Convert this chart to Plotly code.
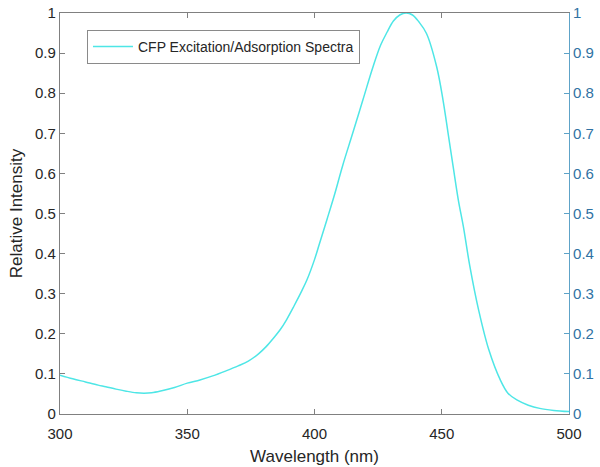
import plotly.graph_objects as go

wavelength = [300, 305, 310, 315, 318, 322, 326, 330, 333, 336, 340, 345, 350, 355, 360,
              365, 370, 374, 378, 381, 384, 386.5, 389, 392, 395, 397, 400, 402, 405, 408,
              411, 415, 419, 423, 426, 428.5, 431, 433.5, 436, 438.5, 441, 444, 448, 450.5,
              452.5, 454.5, 456.5, 458.5, 461, 464.5, 468.5, 473, 476, 479.5, 484, 488.5,
              494, 500]
intensity = [0.097, 0.088, 0.080, 0.072, 0.068, 0.062, 0.057, 0.053, 0.052, 0.053, 0.058,
             0.066, 0.077, 0.085, 0.095, 0.107, 0.120, 0.132, 0.150, 0.168, 0.190, 0.210,
             0.235, 0.270, 0.307, 0.334, 0.385, 0.426, 0.487, 0.550, 0.618, 0.700, 0.783,
             0.866, 0.920, 0.952, 0.980, 0.995, 1.000, 0.995, 0.978, 0.949, 0.866, 0.783,
             0.700, 0.616, 0.534, 0.467, 0.370, 0.259, 0.160, 0.085, 0.052, 0.035, 0.022,
             0.014, 0.009, 0.006]

series_name = "CFP Excitation/Adsorption Spectra"
x_title = "Wavelength (nm)"
y_title = "Relative Intensity"
x_ticks = [300, 350, 400, 450, 500]
y_ticks = [0, 0.1, 0.2, 0.3, 0.4, 0.5, 0.6, 0.7, 0.8, 0.9, 1]
y_ticklabels = ["0", "0.1", "0.2", "0.3", "0.4", "0.5", "0.6", "0.7", "0.8", "0.9", "1"]

FONT = "Liberation Sans, Arial, sans-serif"
CYAN = "#4ee6e6"
AXGRAY = "#808080"
BLUE_LINE = "#5ea3c8"
BLUE_TXT = "#2f72a3"

fig = go.Figure()
fig.add_trace(go.Scatter(x=wavelength, y=intensity, mode="lines", name=series_name,
                         line=dict(color=CYAN, width=1.5, shape="spline", smoothing=1.0)))
fig.add_trace(go.Scatter(x=wavelength, y=intensity, mode="lines", yaxis="y2",
                         showlegend=False, hoverinfo="skip",
                         line=dict(color="rgba(0,0,0,0)", width=0)))

fig.update_layout(
    width=600, height=467,
    margin=dict(l=60, r=31, t=13, b=53, autoexpand=False),
    paper_bgcolor="white", plot_bgcolor="white",
    font=dict(family=FONT, size=15, color="#262626"),
    showlegend=True,
    legend=dict(x=0.053, y=0.958, xanchor="left", yanchor="top",
                bgcolor="white", bordercolor="#8a8a8a", borderwidth=1,
                font=dict(family=FONT, size=14, color="#262626"),
                itemwidth=40),
    xaxis=dict(range=[300, 500], tickvals=x_ticks, ticks="inside", ticklen=5,
               tickcolor=AXGRAY, showline=True, linecolor=AXGRAY, linewidth=1.2,
               mirror="ticks", showgrid=False, zeroline=False, automargin=False,
               ticklabelstandoff=6,
               title=dict(text=x_title, font=dict(size=17), standoff=9),
               tickfont=dict(size=15, color="#262626")),
    yaxis=dict(range=[0, 1], tickvals=y_ticks, ticktext=y_ticklabels, ticks="inside",
               ticklen=5, tickcolor=AXGRAY, showline=True, linecolor=AXGRAY,
               linewidth=1.2, showgrid=False, zeroline=False, automargin=False,
               ticklabeloverflow="allow",
               title=dict(text=y_title, font=dict(size=17), standoff=8),
               tickfont=dict(size=15, color="#262626")),
    yaxis2=dict(range=[0, 1], tickvals=y_ticks, ticktext=y_ticklabels, overlaying="y",
                side="right", ticks="inside", ticklen=5, tickcolor=BLUE_LINE,
                showline=True, linecolor=BLUE_LINE, linewidth=1.2, showgrid=False,
                zeroline=False, automargin=False, ticklabeloverflow="allow",
                tickfont=dict(size=15, color=BLUE_TXT)),
)

fig.write_html("out.html", config={"displayModeBar": False},
               post_script="document.body.style.margin='0';")
